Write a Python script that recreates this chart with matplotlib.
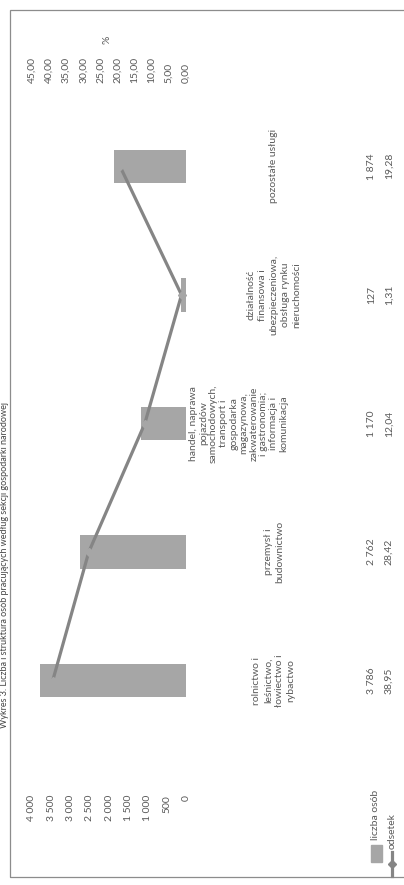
import matplotlib
matplotlib.use("Agg")
import matplotlib.pyplot as plt
from matplotlib.transforms import blended_transform_factory
from matplotlib.patches import Rectangle
from matplotlib.lines import Line2D

categories = [
    "rolnictwo i\nleśnictwo,\nłowiectwo i\nrybactwo",
    "przemysł i\nbudownictwo",
    "handel, naprawa\npojazdów\nsamochodowych,\ntransport i\ngospodarka\nmagazynowa,\n"
    "zakwaterowanie\ni gastronomia;\ninformacja i\nkomunikacja",
    "działalność\nfinansowa i\nubezpieczeniowa,\nobsługa rynku\nnieruchomości",
    "pozostałe usługi",
]
counts = [3786, 2762, 1170, 127, 1874]
shares = [38.95, 28.42, 12.04, 1.31, 19.28]
count_ticks = [0, 500, 1000, 1500, 2000, 2500, 3000, 3500, 4000]
share_ticks = [0, 5, 10, 15, 20, 25, 30, 35, 40, 45]
series_names = ["liczba osób", "odsetek"]
title = "Wykres 3. Liczba i struktura osób pracujących według sekcji gospodarki narodowej"

BAR = "#a6a6a6"
LINE = "#858585"
TXT = "#5a5a5a"
FS = 7.5

plt.rcParams["font.family"] = ["Lato", "DejaVu Sans"]

W, H = 404, 885
fig = plt.figure(figsize=(W / 100, H / 100), dpi=100)


def fx(px):
    return px / W


def fy(py):
    return 1 - py / H


def pl_num(v, dec=0):
    s = f"{v:,.{dec}f}"
    return s.replace(",", " ").replace(".", ",")


# chart is drawn turned by 90 degrees, like the scan
ax = fig.add_axes([fx(32), fy(745), (186 - 32) / W, (745 - 102) / H])
pos = list(range(len(categories)))
ax.barh(pos, counts, height=0.26, color=BAR, zorder=2)
ax.set_xlim(4000, 0)
ax.set_ylim(-0.5, len(categories) - 0.5)
ax.set_xticks(count_ticks)
ax.set_xticklabels([pl_num(t) for t in count_ticks], rotation=90)
ax.tick_params(axis="x", length=0, pad=36, labelsize=FS, colors=TXT)
ax.set_yticks([])
for s in ax.spines.values():
    s.set_visible(False)

ax2 = ax.twiny()
ax2.plot(shares, pos, color=LINE, lw=2.3, marker="D", ms=4.5,
         mfc=BAR, mec=BAR, zorder=3)
ax2.set_xlim(45, 0)
ax2.set_xticks(share_ticks)
ax2.set_xticklabels([pl_num(t, 2) for t in share_ticks], rotation=90)
ax2.tick_params(axis="x", length=0, pad=14, labelsize=FS, colors=TXT)
for s in ax2.spines.values():
    s.set_visible(False)
fig.text(fx(107), fy(40), "%", rotation=90, ha="center", va="center",
         fontsize=FS, color=TXT)

# data table under the chart
tr = blended_transform_factory(fig.transFigure, ax.transData)
for i, lab in enumerate(categories):
    n = lab.count("\n") + 1
    if n > 6:
        ax.text(fx(189), i, lab, transform=tr, rotation=90, ha="left",
                va="center", fontsize=FS, color=TXT, linespacing=1.15,
                multialignment="center", clip_on=False)
    else:
        ax.text(fx(274), i, lab, transform=tr, rotation=90, ha="center",
                va="center", fontsize=FS, color=TXT, linespacing=1.35,
                multialignment="center", clip_on=False)
    ax.text(fx(372), i, pl_num(counts[i]), transform=tr, rotation=90,
            ha="center", va="center", fontsize=FS, color=TXT, clip_on=False)
    ax.text(fx(389), i, pl_num(shares[i], 2), transform=tr, rotation=90,
            ha="center", va="center", fontsize=FS, color=TXT, clip_on=False)

# row headers with legend keys
fig.text(fx(376), fy(840), series_names[0], rotation=90, ha="center",
         va="bottom", fontsize=FS, color=TXT)
fig.add_artist(Rectangle((fx(371), fy(862)), fx(382) - fx(371),
                         fy(845) - fy(862), transform=fig.transFigure,
                         color=BAR))
fig.text(fx(392), fy(849), series_names[1], rotation=90, ha="center",
         va="bottom", fontsize=FS, color=TXT)
fig.add_artist(Line2D([fx(392), fx(392)], [fy(876), fy(852)],
                      transform=fig.transFigure, color=LINE, lw=2.3))
fig.add_artist(Line2D([fx(392)], [fy(864)], transform=fig.transFigure,
                      marker="D", ms=4.5, color=LINE))

# chart frame and the caption at the edge of the scan
fig.add_artist(Rectangle((fx(10), fy(877)), fx(420) - fx(10),
                         fy(10) - fy(877), transform=fig.transFigure,
                         fill=False, edgecolor="#8c8c8c", lw=0.9))
fig.text(fx(4.5), fy(565), title, rotation=90, ha="center", va="center",
         fontsize=6.5, color="#444444")

fig.savefig("out.png", dpi=100)
